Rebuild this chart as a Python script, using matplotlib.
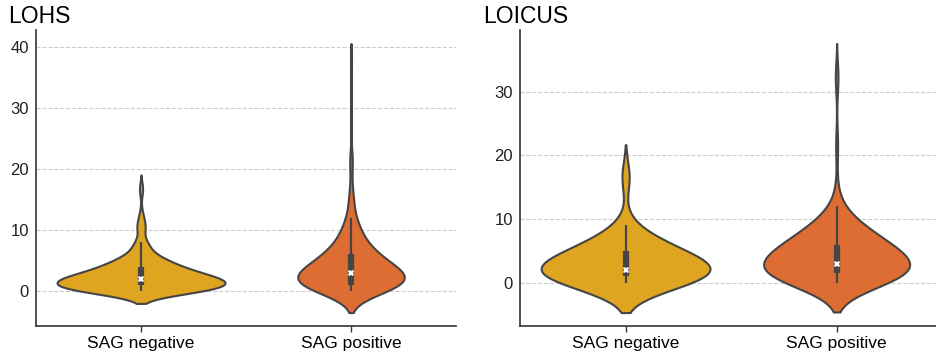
import numpy as np
import matplotlib
matplotlib.use("Agg")
import matplotlib.pyplot as plt

plt.rcParams['font.family'] = ['Liberation Sans', 'DejaVu Sans']

groups = ["SAG negative", "SAG positive"]

# LOHS scores: value -> number of samples
lohs_neg_vals = [0, 1, 2, 3, 4, 5, 6, 7, 8, 10, 11, 12, 13, 16, 17]
lohs_neg_counts = [55, 65, 62, 40, 28, 20, 9, 6, 6, 4, 3, 2, 1, 1, 2]
lohs_pos_vals = [0, 1, 2, 3, 4, 5, 6, 7, 8, 9, 10, 11, 12, 14, 15, 16, 18, 21, 22, 37]
lohs_pos_counts = [45, 60, 60, 55, 42, 32, 26, 20, 14, 11, 9, 7, 6, 4, 3, 2, 2, 3, 2, 2]

# LOICUS scores
loicus_neg_vals = [0, 1, 2, 3, 4, 5, 6, 7, 8, 9, 16, 17]
loicus_neg_counts = [60, 55, 55, 42, 36, 30, 20, 13, 8, 5, 4, 6]
loicus_pos_vals = [0, 1, 2, 3, 4, 5, 6, 7, 8, 9, 10, 11, 12, 15, 21, 23, 32, 33]
loicus_pos_counts = [50, 42, 42, 50, 36, 33, 30, 25, 18, 13, 9, 6, 4, 2, 2, 1, 3, 1]

# kde bandwidths per violin
lohs_bw = [1.0, 1.75]
loicus_bw = [2.35, 2.3]

colors = ["#DFA420", "#DD6D33"]
line_col = "#454545"


def kde(samples, bw, cut=2, n=300):
    grid = np.linspace(samples.min() - cut * bw, samples.max() + cut * bw, n)
    z = (grid[:, None] - samples[None, :]) / bw
    dens = np.exp(-0.5 * z ** 2).sum(axis=1) / (len(samples) * bw * np.sqrt(2 * np.pi))
    return grid, dens


def violins(ax, data, bws, yticks):
    data = [np.asarray(d, float) for d in data]
    curves = [kde(d, bw) for d, bw in zip(data, bws)]
    peak = max(dens.max() for _, dens in curves)
    for i, ((grid, dens), d) in enumerate(zip(curves, data)):
        half = dens / peak * 0.4
        ax.fill_betweenx(grid, i - half, i + half, facecolor=colors[i],
                         edgecolor=line_col, lw=1.5, zorder=2)
        q1, med, q3 = np.percentile(d, [25, 50, 75])
        iqr = q3 - q1
        lo = d[d >= q1 - 1.5 * iqr].min()
        hi = d[d <= q3 + 1.5 * iqr].max()
        ax.plot([i, i], [lo, hi], color=line_col, lw=1.6, solid_capstyle='butt', zorder=3)
        ax.plot([i, i], [q1, q3], color=line_col, lw=4.5, solid_capstyle='butt', zorder=3)
        ax.plot(i, med, marker='X', ms=4.5, color='white', mew=0, zorder=4)

    ax.set_xlim(-0.5, 1.5)
    ax.set_xticks([0, 1])
    ax.set_xticklabels(groups, fontsize=12.5)
    ax.set_yticks(yticks)
    ax.tick_params(axis='y', length=0, labelsize=12, pad=5, colors='#222222')
    ax.tick_params(axis='x', length=4, width=1, color='#333333', labelsize=12.5, pad=3)
    ax.yaxis.grid(True, linestyle='--', color='#cccccc', lw=0.8, zorder=0)
    ax.set_axisbelow(True)
    for s in ['top', 'right']:
        ax.spines[s].set_visible(False)
    for s in ['left', 'bottom']:
        ax.spines[s].set_color('#333333')
        ax.spines[s].set_linewidth(1.2)


fig = plt.figure(figsize=(9.36, 3.54), dpi=100)
ax1 = fig.add_axes([0.0385, 0.079, 0.4487, 0.836])
ax2 = fig.add_axes([0.5556, 0.079, 0.451, 0.836])

violins(ax1, [np.repeat(lohs_neg_vals, lohs_neg_counts),
              np.repeat(lohs_pos_vals, lohs_pos_counts)], lohs_bw, [0, 10, 20, 30, 40])
violins(ax2, [np.repeat(loicus_neg_vals, loicus_neg_counts),
              np.repeat(loicus_pos_vals, loicus_pos_counts)], loicus_bw, [0, 10, 20, 30])

fig.text(0.009, 0.935, "LOHS", fontsize=16.5)
fig.text(0.516, 0.935, "LOICUS", fontsize=16.5)

fig.savefig("out.png", dpi=100)
